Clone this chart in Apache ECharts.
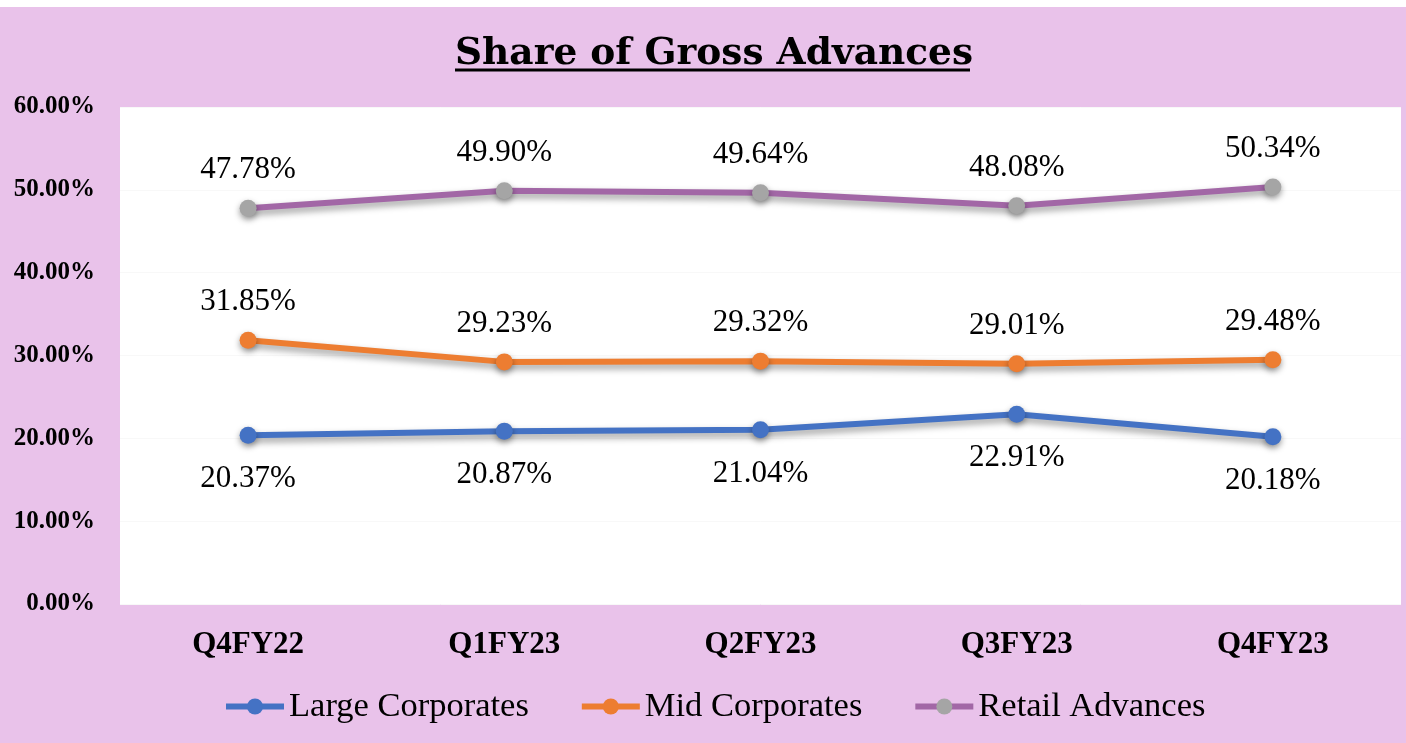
<!DOCTYPE html>
<html>
<head>
<meta charset="utf-8">
<script src="https://cdn.jsdelivr.net/npm/echarts@6/dist/echarts.min.js"></script>
<style>
html,body{margin:0;padding:0;background:#fff;}
#c{width:1406px;height:743px;}
</style>
</head>
<body>
<div id="c"></div>
<script>
const categories = ['Q4FY22','Q1FY23','Q2FY23','Q3FY23','Q4FY23'];
const largeCorporates = [20.37, 20.87, 21.04, 22.91, 20.18];
const midCorporates = [31.85, 29.23, 29.32, 29.01, 29.48];
const retailAdvances = [47.78, 49.90, 49.64, 48.08, 50.34];
const seriesNames = ['Large Corporates','Mid Corporates','Retail Advances'];
const titleText = 'Share of Gross Advances';

const serif = '"Liberation Serif", "DejaVu Serif", serif';
const chart = echarts.init(document.getElementById('c'));

function lineSeries(name, data, lineColor, markColor, pos, dist) {
  return {
    name: name,
    type: 'line',
    data: data,
    symbol: 'circle',
    symbolSize: 17,
    lineStyle: {color: lineColor, width: 6, shadowColor: 'rgba(0,0,0,0.4)', shadowBlur: 7, shadowOffsetY: 4},
    itemStyle: {color: markColor, shadowColor: 'rgba(0,0,0,0.4)', shadowBlur: 6, shadowOffsetY: 3},
    label: {
      show: true, position: pos, distance: dist,
      formatter: p => p.value.toFixed(2) + '%',
      fontFamily: serif, fontSize: 31, color: '#000'
    },
    emphasis: {disabled: true}
  };
}

chart.setOption({
  backgroundColor: '#E9C2EA',
  animation: false,
  title: {
    text: titleText, left: 450, top: 30,
    textStyle: {fontFamily: '"DejaVu Serif", serif', fontSize: 37.5, fontWeight: 'bold', color: '#000'}
  },
  graphic: [
    {type: 'rect', shape: {x: 0, y: 0, width: 1406, height: 7}, style: {fill: '#fff'}, silent: true},
    {type: 'line', shape: {x1: 455, y1: 70, x2: 970, y2: 70}, style: {stroke: '#000', lineWidth: 3}, silent: true}
  ],
  grid: {left: 120, right: 5, top: 107, bottom: 139, show: true, backgroundColor: '#fff', borderWidth: 0},
  legend: {
    data: seriesNames, bottom: 14, left: 218,
    itemWidth: 58, itemHeight: 20, itemGap: 50,
    lineStyle: {width: 6},
    textStyle: {fontFamily: serif, fontSize: 34.5, color: '#000'}
  },
  xAxis: {
    type: 'category', data: categories, boundaryGap: true,
    axisLine: {show: false}, axisTick: {show: false},
    axisLabel: {fontFamily: serif, fontSize: 31, fontWeight: 'bold', color: '#000', margin: 25}
  },
  yAxis: {
    type: 'value', min: 0, max: 60, interval: 10,
    axisLine: {show: false}, axisTick: {show: false},
    splitLine: {lineStyle: {color: '#f8f8f8', width: 1}},
    axisLabel: {fontFamily: serif, fontSize: 25, fontWeight: 'bold', color: '#000', margin: 25,
      formatter: v => v.toFixed(2) + '%'}
  },
  series: [
    lineSeries(seriesNames[0], largeCorporates, '#4472C4', '#4472C4', 'bottom', 20),
    lineSeries(seriesNames[1], midCorporates, '#ED7D31', '#ED7D31', 'top', 14),
    lineSeries(seriesNames[2], retailAdvances, '#A267A6', '#A5A5A5', 'top', 14)
  ]
});
</script>
</body>
</html>
